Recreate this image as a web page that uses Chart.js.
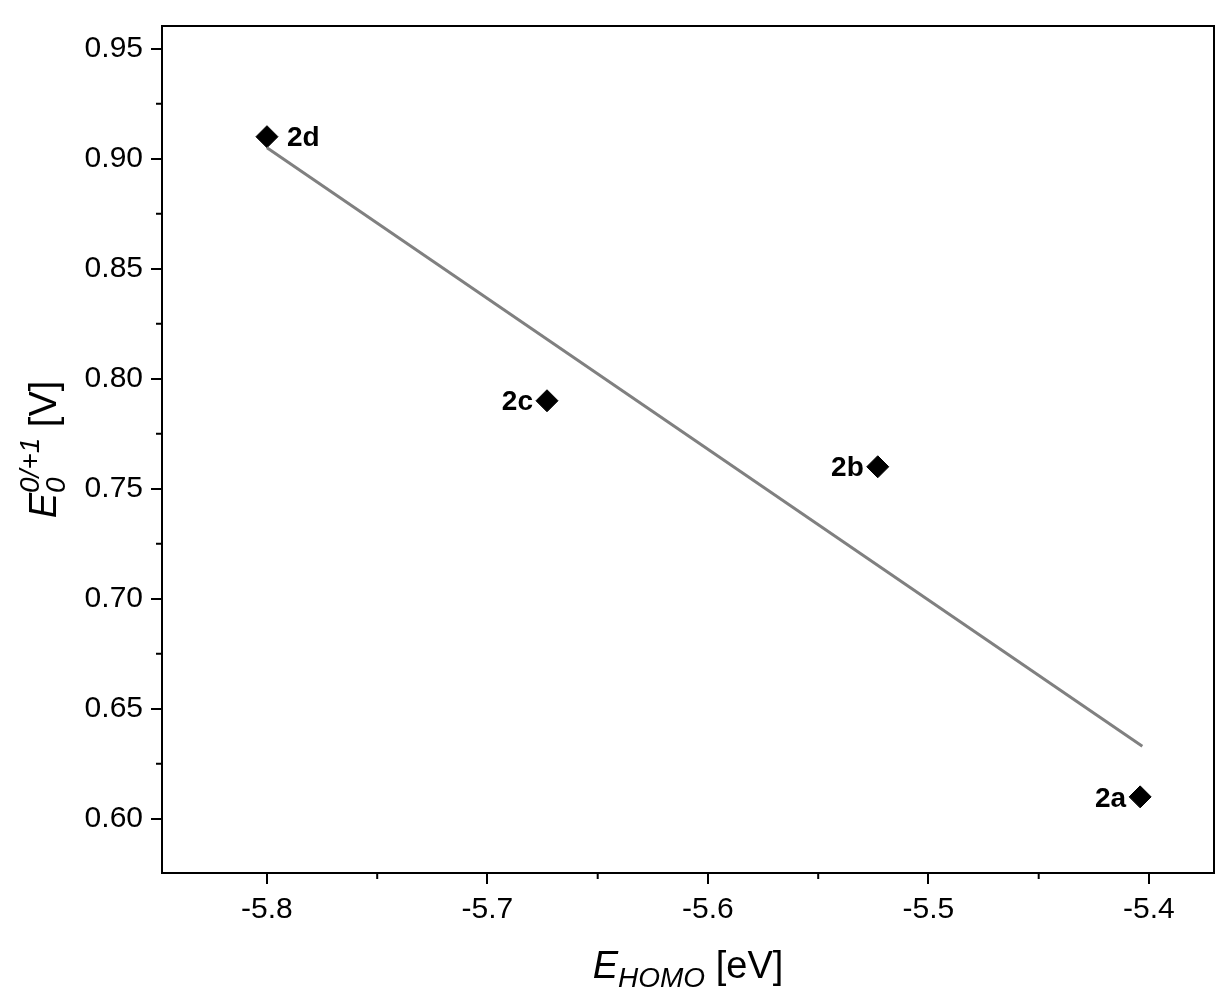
<!DOCTYPE html>
<html>
<head>
<meta charset="utf-8">
<script src="https://cdn.jsdelivr.net/npm/chart.js@4.4.0/dist/chart.umd.min.js"></script>
<style>
  html, body { margin: 0; padding: 0; background: #fff; }
  #wrap { width: 1231px; height: 1003px; }
</style>
</head>
<body>
<div id="wrap"><canvas id="c"></canvas></div>
<script>
const labels = ['2d', '2c', '2b', '2a'];
const homo = [-5.80, -5.673, -5.523, -5.404];
const potential = [0.91, 0.79, 0.76, 0.61];
const fitX = [-5.80, -5.403];
const fitY = [0.905, 0.633];
const xTicks = [-5.8, -5.7, -5.6, -5.5, -5.4];
const yTicks = [0.60, 0.65, 0.70, 0.75, 0.80, 0.85, 0.90, 0.95];
const labelSide = ['right', 'left', 'left', 'left'];

const FONT = '"Liberation Sans", Arial, sans-serif';

const decor = {
  id: 'decor',
  afterDraw(chart) {
    const ctx = chart.ctx;
    const a = chart.chartArea;
    const xs = chart.scales.x, ys = chart.scales.y;
    ctx.save();
    ctx.strokeStyle = '#000';
    ctx.lineWidth = 2;
    ctx.strokeRect(a.left, a.top, a.right - a.left, a.bottom - a.top);
    ctx.beginPath();
    for (let i = 0; i < xTicks.length + 1; i++) {
      const v = xTicks[0] - 0.05 + i * 0.1;
      const px = xs.getPixelForValue(v);
      if (px < a.left || px > a.right) continue;
      ctx.moveTo(px, a.bottom); ctx.lineTo(px, a.bottom + 6);
    }
    for (let i = 0; i < yTicks.length + 1; i++) {
      const v = yTicks[0] - 0.025 + i * 0.05;
      const py = ys.getPixelForValue(v);
      if (py < a.top || py > a.bottom) continue;
      ctx.moveTo(a.left, py); ctx.lineTo(a.left - 6, py);
    }
    ctx.stroke();
    ctx.fillStyle = '#000';
    ctx.font = 'bold 28px ' + FONT;
    ctx.textBaseline = 'middle';
    labels.forEach((t, i) => {
      const px = xs.getPixelForValue(homo[i]);
      const py = ys.getPixelForValue(potential[i]);
      if (labelSide[i] === 'right') { ctx.textAlign = 'left'; ctx.fillText(t, px + 20, py + 2); }
      else { ctx.textAlign = 'right'; ctx.fillText(t, px - 14, py + 2); }
    });
    ctx.textBaseline = 'alphabetic';
    ctx.textAlign = 'left';
    const xt = 'italic 38px ' + FONT, xs2 = 'italic 28px ' + FONT, xn = '38px ' + FONT;
    ctx.font = xt; const w1 = ctx.measureText('E').width;
    ctx.font = xs2; const w2 = ctx.measureText('HOMO').width;
    ctx.font = xn; const w3 = ctx.measureText(' [eV]').width;
    let x0 = (a.left + a.right) / 2 - (w1 + w2 + w3) / 2;
    const by = 978;
    ctx.font = xt; ctx.fillText('E', x0, by); x0 += w1;
    ctx.font = xs2; ctx.fillText('HOMO', x0, by + 9); x0 += w2;
    ctx.font = xn; ctx.fillText(' [eV]', x0, by);
    ctx.translate(56, (a.top + a.bottom) / 2);
    ctx.rotate(-Math.PI / 2);
    ctx.font = xt; const e = ctx.measureText('E').width;
    ctx.font = xs2; const sup = ctx.measureText('0/+1').width;
    ctx.font = xn; const v = ctx.measureText(' [V]').width;
    let y0 = -(e + sup + v) / 2;
    ctx.font = xt; ctx.fillText('E', y0, 0); y0 += e;
    ctx.font = xs2; ctx.fillText('0', y0, 9); ctx.fillText('0/+1', y0, -17); y0 += sup;
    ctx.font = xn; ctx.fillText(' [V]', y0, 0);
    ctx.restore();
  }
};

new Chart(document.getElementById('c'), {
  type: 'scatter',
  data: {
    datasets: [
      {
        type: 'line',
        data: fitX.map((x, i) => ({ x, y: fitY[i] })),
        borderColor: '#808080',
        borderWidth: 3,
        pointRadius: 0,
        showLine: true
      },
      {
        data: homo.map((x, i) => ({ x, y: potential[i] })),
        backgroundColor: '#000',
        borderColor: '#000',
        pointStyle: 'rectRot',
        pointRadius: 11
      }
    ]
  },
  options: {
    responsive: true,
    maintainAspectRatio: false,
    animation: false,
    layout: { padding: { top: 2, right: 17, left: 0, bottom: 0 } },
    plugins: { legend: { display: false }, tooltip: { enabled: false } },
    scales: {
      x: {
        type: 'linear', min: -5.8476, max: -5.3705,
        afterBuildTicks: s => { s.ticks = xTicks.map(v => ({ value: v })); },
        afterFit: s => { s.height = 130; },
        grid: { drawOnChartArea: false, drawTicks: true, tickLength: 11, color: '#000', lineWidth: 2 },
        border: { display: false },
        ticks: { color: '#000', font: { family: FONT, size: 30 }, padding: 8, maxRotation: 0,
          callback: v => v.toFixed(1) }
      },
      y: {
        type: 'linear', min: 0.5754, max: 0.9603,
        afterBuildTicks: s => { s.ticks = yTicks.map(v => ({ value: v })); },
        afterFit: s => { s.width = 162; },
        grid: { drawOnChartArea: false, drawTicks: true, tickLength: 11, color: '#000', lineWidth: 2 },
        border: { display: false },
        ticks: { color: '#000', font: { family: FONT, size: 30 }, padding: 8,
          callback: v => v.toFixed(2) }
      }
    }
  },
  plugins: [decor]
});
</script>
</body>
</html>
